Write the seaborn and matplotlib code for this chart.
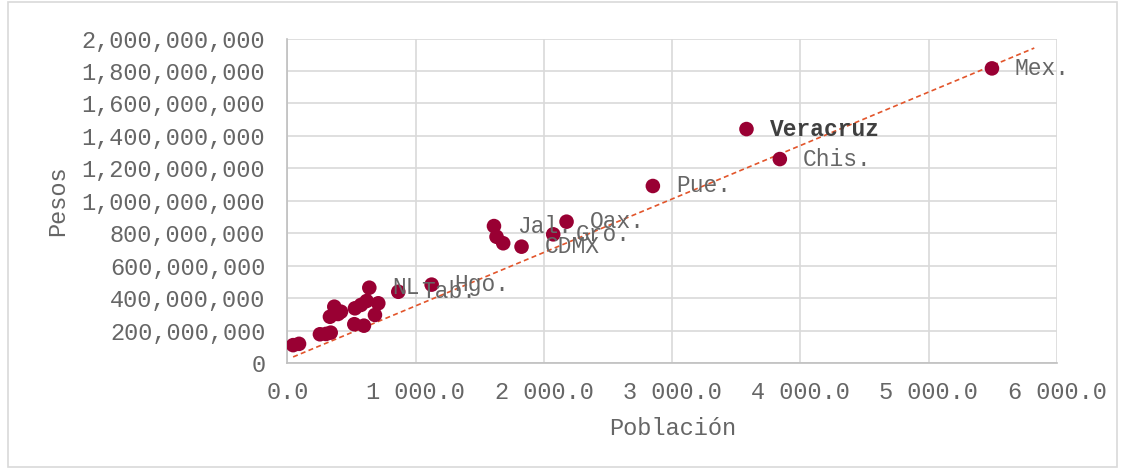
import numpy as np
import pandas as pd
import matplotlib
matplotlib.use("Agg")
import matplotlib.pyplot as plt
from matplotlib.ticker import FuncFormatter, MultipleLocator
from matplotlib.patches import Rectangle
import seaborn as sns

# ---- data ----
estados = ["Mex.", "Veracruz", "Chis.", "Pue.", "Oax.", "Gro.", "Jal.", "", "", "CDMX",
           "Hgo.", "Tab.", "NL",
           "", "", "", "", "", "", "", "", "", "", "", "", "", "", "", ""]
poblacion = [5493, 3579, 3839, 2849, 2176, 2072, 1610, 1630, 1682, 1825,
             1124, 864, 638,
             365, 417, 331, 526, 617, 708, 682, 521, 596, 253, 337, 90, 44,
             573, 300, 394]
pesos = [1816e6, 1442e6, 1257e6, 1091e6, 871e6, 793e6, 844e6, 778e6, 738e6, 717e6,
         483e6, 439e6, 464e6,
         347e6, 316e6, 285e6, 337e6, 382e6, 368e6, 296e6, 239e6, 230e6, 177e6, 187e6, 118e6, 110e6,
         358e6, 179e6, 302e6]
bold_labels = ["Veracruz"]

# linear trendline as shown on the chart (slope, intercept, forward forecast)
trend_slope = 329.5e3
trend_intercept = 22.8e6
trend_forward = 330

df = pd.DataFrame({"Población": poblacion, "Pesos": pesos, "Estado": estados})

sns.set_theme(style="whitegrid")
plt.rcParams["font.family"] = ["Liberation Mono", "DejaVu Sans"]

GRAY = "#666666"
FS = 17
fig = plt.figure(figsize=(11.23, 4.70), dpi=100)
ax = fig.add_axes([0.256, 0.2277, 0.9412 - 0.256, 0.918 - 0.2277])

sns.scatterplot(data=df, x="Población", y="Pesos", ax=ax, color="#990033",
                s=110, edgecolor="none", zorder=3)

xs = np.array([df["Población"].min(), df["Población"].max() + trend_forward])
ax.plot(xs, trend_slope * xs + trend_intercept, ls=(0, (3, 2)), color="#E2552B",
        lw=1.2, zorder=2)

for _, r in df.iterrows():
    if not r["Estado"]:
        continue
    bold = r["Estado"] in bold_labels
    ax.annotate(r["Estado"], (r["Población"], r["Pesos"]), xytext=(23, 0),
                textcoords="offset pixels", ha="left", va="center",
                fontsize=16.5, color="#404040" if bold else GRAY,
                fontweight="bold" if bold else "normal", zorder=4)

ax.set_xlim(0, 6000)
ax.set_ylim(0, 2e9)
ax.xaxis.set_major_locator(MultipleLocator(1000))
ax.yaxis.set_major_locator(MultipleLocator(2e8))
ax.xaxis.set_major_formatter(FuncFormatter(lambda v, p: f"{v:,.1f}".replace(",", " ")))
ax.yaxis.set_major_formatter(FuncFormatter(lambda v, p: f"{v:,.0f}"))
ax.tick_params(axis="both", labelsize=FS, colors=GRAY, length=0)
ax.tick_params(axis="y", pad=16)
ax.tick_params(axis="x", pad=13)
ax.grid(True, color="#d9d9d9", lw=1.2)
for s in ["top", "right"]:
    ax.spines[s].set_visible(False)
for s in ["left", "bottom"]:
    ax.spines[s].set_color("#bfbfbf")
    ax.spines[s].set_linewidth(1.2)
ax.set_facecolor("white")

ax.set_xlabel("Población", fontsize=FS, color=GRAY, labelpad=9)
ax.set_ylabel("Pesos", fontsize=FS, color=GRAY, labelpad=9)

fig.patches.append(Rectangle((0.007, 0.006), 0.988, 0.99, transform=fig.transFigure,
                             fill=False, edgecolor="#d9d9d9", lw=1.2))

fig.savefig("out.png", dpi=100, facecolor="white")
